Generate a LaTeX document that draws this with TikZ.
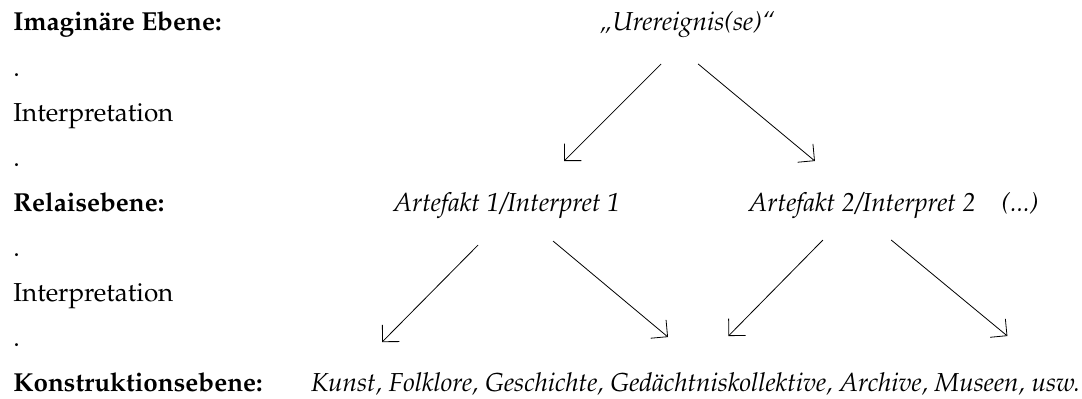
\documentclass[tikz,border=0pt]{standalone}
\usepackage[T1]{fontenc}
\usepackage{mathpazo}
\usepackage{tikz}
\usetikzlibrary{arrows.meta}

\newcommand{\ebenefont}{\fontsize{13}{16}\selectfont}

\begin{document}
\begin{tikzpicture}[
  lvl/.style={anchor=base west,inner sep=0pt,font=\ebenefont\bfseries},
  lft/.style={anchor=base west,inner sep=0pt,font=\ebenefont},
  itm/.style={anchor=base west,inner sep=0pt,font=\ebenefont\itshape}]
 \useasboundingbox (0,0) rectangle (19,-6.99);
 % linke Spalte
 \node[lvl] (imag) at (0.228,-0.544) {Imagin\"are Ebene:};
 \node[lft] (d1)   at (0.228,-1.335) {.};
 \node[lft] (int1) at (0.228,-2.125) {Interpretation};
 \node[lft] (d2)   at (0.228,-2.915) {.};
 \node[lvl] (rel)  at (0.228,-3.706) {Relaisebene:};
 \node[lft] (d3)   at (0.228,-4.496) {.};
 \node[lft] (int2) at (0.228,-5.286) {Interpretation};
 \node[lft] (d4)   at (0.228,-6.077) {.};
 \node[lvl] (kon)  at (0.228,-6.867) {Konstruktionsebene:};
 % Ebenen
 \node[itm] (ur)   at (10.52,-0.544) {\quotedblbase Urereignis(se)\textquotedblleft};
 \node[itm] (art1) at (6.90,-3.706) {Artefakt 1/Interpret 1};
 \node[itm] (art2) at (13.14,-3.706) {Artefakt 2/Interpret 2\quad(...)};
 \node[itm] (kun)  at (5.45,-6.867) {Kunst, Folklore, Geschichte, Ged\"achtniskollektive, Archive, Museen, usw.};
 % Pfeilenden
 \coordinate (u1) at (11.61,-1.124); \coordinate (u2) at (12.26,-1.124);
 \coordinate (a1) at (9.906,-2.828); \coordinate (a2) at (14.31,-2.828);
 \coordinate (p1) at (8.395,-4.303); \coordinate (p2) at (9.712,-4.233);
 \coordinate (q1) at (14.45,-4.215); \coordinate (q2) at (15.65,-4.215);
 \coordinate (k1) at (6.709,-6.007); \coordinate (k2) at (11.73,-5.919);
 \coordinate (k3) at (12.79,-5.901); \coordinate (k4) at (17.69,-5.901);
 \begin{scope}[every path/.style={line width=0.4pt,-{Straight Barb[length=2.1mm,width=4.2mm]}}]
 \draw (u1)--(a1); \draw (u2)--(a2);
 \draw (p1)--(k1); \draw (p2)--(k2);
 \draw (q1)--(k3); \draw (q2)--(k4);
 \end{scope}
\end{tikzpicture}
\end{document}
